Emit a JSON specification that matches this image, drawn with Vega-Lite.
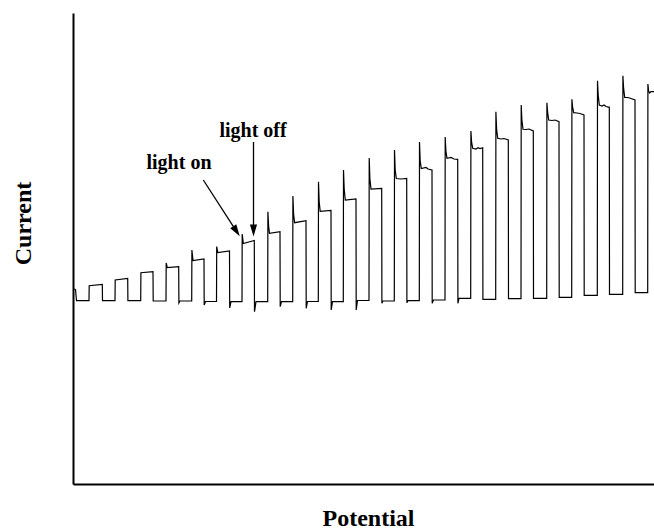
{
  "$schema": "https://vega.github.io/schema/vega-lite/v6.json",
  "width": 581,
  "height": 471,
  "autosize": "none",
  "padding": {"left": 73, "top": 13, "right": 0, "bottom": 45},
  "background": "white",
  "config": {
    "view": {"stroke": null},
    "font": "Liberation Serif",
    "axis": {
      "domainColor": "black",
      "domainWidth": 2,
      "ticks": false,
      "labels": false,
      "grid": false,
      "titleFont": "Liberation Serif",
      "titleFontWeight": "bold",
      "titleFontSize": 24,
      "titleColor": "black"
    }
  },
  "datasets": {
    "trace": [
      {"p": 0, "c": 195}, {"p": 2.5, "c": 194.5}, {"p": 3.5, "c": 183.3}, {"p": 16, "c": 183.3},
      {"p": 16.2, "c": 198.3}, {"p": 29.3, "c": 199.7}, {"p": 29.5, "c": 183.3}, {"p": 42, "c": 183.3},
      {"p": 42.2, "c": 204}, {"p": 54.7, "c": 205.5}, {"p": 54.9, "c": 183.3}, {"p": 67.7, "c": 183.3},
      {"p": 67.9, "c": 211.3}, {"p": 80, "c": 212.3}, {"p": 80.2, "c": 183}, {"p": 93, "c": 183},
      {"p": 93.2, "c": 221}, {"p": 94.2, "c": 216.5}, {"p": 105.7, "c": 217.3}, {"p": 105.9, "c": 181}, {"p": 107, "c": 183}, {"p": 118.7, "c": 183},
      {"p": 118.9, "c": 234}, {"p": 120, "c": 223.5}, {"p": 131, "c": 225}, {"p": 131.2, "c": 179}, {"p": 132.5, "c": 182.5}, {"p": 143.5, "c": 182.5},
      {"p": 143.7, "c": 237.5}, {"p": 144.8, "c": 231.5}, {"p": 156.5, "c": 233}, {"p": 156.7, "c": 176}, {"p": 158, "c": 182.3}, {"p": 169, "c": 182.3},
      {"p": 169.2, "c": 250}, {"p": 170.3, "c": 240.5}, {"p": 181.3, "c": 243.5}, {"p": 181.5, "c": 172.3}, {"p": 183, "c": 182.3}, {"p": 194.7, "c": 182.3},
      {"p": 194.9, "c": 272.3}, {"p": 195.6, "c": 258}, {"p": 196.5, "c": 250.7}, {"p": 207, "c": 252.3}, {"p": 207.2, "c": 177.3}, {"p": 208.5, "c": 182.3}, {"p": 219.7, "c": 182.3},
      {"p": 219.9, "c": 288}, {"p": 220.6, "c": 270}, {"p": 221.6, "c": 261.3}, {"p": 233, "c": 263.3}, {"p": 233.2, "c": 175.7}, {"p": 234.5, "c": 182.5}, {"p": 245.3, "c": 182.5},
      {"p": 245.5, "c": 302.3}, {"p": 246.2, "c": 282}, {"p": 247.2, "c": 272.7}, {"p": 258, "c": 273.5}, {"p": 258.2, "c": 174}, {"p": 259.5, "c": 182.3}, {"p": 270.3, "c": 182.3},
      {"p": 270.5, "c": 314}, {"p": 271.2, "c": 295}, {"p": 272.3, "c": 284}, {"p": 283, "c": 285}, {"p": 283.2, "c": 174}, {"p": 284.5, "c": 183.5}, {"p": 296, "c": 183.5},
      {"p": 296.2, "c": 326}, {"p": 296.9, "c": 305}, {"p": 298, "c": 295}, {"p": 308.7, "c": 295.7}, {"p": 308.9, "c": 180.7}, {"p": 310, "c": 183}, {"p": 321.3, "c": 183},
      {"p": 321.5, "c": 334}, {"p": 322.2, "c": 314}, {"p": 323.3, "c": 305.5}, {"p": 328, "c": 305}, {"p": 333.7, "c": 305.5}, {"p": 333.9, "c": 181.3}, {"p": 335, "c": 183.3}, {"p": 346.3, "c": 183.3},
      {"p": 346.5, "c": 342}, {"p": 347.2, "c": 323}, {"p": 348.3, "c": 315.5}, {"p": 353, "c": 316.5}, {"p": 355, "c": 315}, {"p": 359, "c": 314}, {"p": 359.2, "c": 180.7}, {"p": 360.5, "c": 184}, {"p": 372, "c": 184},
      {"p": 372.2, "c": 347}, {"p": 372.9, "c": 333}, {"p": 374, "c": 325.7}, {"p": 378, "c": 326.5}, {"p": 381, "c": 325}, {"p": 384.7, "c": 324.7}, {"p": 384.9, "c": 180.7}, {"p": 386, "c": 185.7}, {"p": 397.7, "c": 185.7},
      {"p": 397.9, "c": 353}, {"p": 398.6, "c": 342}, {"p": 399.7, "c": 335.7}, {"p": 403, "c": 335}, {"p": 405, "c": 336.3}, {"p": 407, "c": 335.5}, {"p": 409.7, "c": 336.3}, {"p": 409.9, "c": 184.7}, {"p": 422.7, "c": 184.7},
      {"p": 422.9, "c": 372.3}, {"p": 423.6, "c": 355}, {"p": 424.7, "c": 345.7}, {"p": 428, "c": 345}, {"p": 431, "c": 345.5}, {"p": 435.3, "c": 344}, {"p": 435.5, "c": 185.3}, {"p": 448, "c": 185.3},
      {"p": 448.2, "c": 379}, {"p": 448.9, "c": 364}, {"p": 450, "c": 354.7}, {"p": 453, "c": 354.5}, {"p": 456, "c": 355}, {"p": 460.3, "c": 353}, {"p": 460.5, "c": 185.7}, {"p": 473.7, "c": 185.7},
      {"p": 473.9, "c": 381.3}, {"p": 474.6, "c": 372}, {"p": 475.7, "c": 364}, {"p": 479, "c": 363.5}, {"p": 482, "c": 364}, {"p": 486, "c": 362.3}, {"p": 486.2, "c": 186.7}, {"p": 498.7, "c": 186.7},
      {"p": 498.9, "c": 384.7}, {"p": 499.6, "c": 377}, {"p": 500.7, "c": 371.3}, {"p": 504, "c": 371}, {"p": 507, "c": 370.5}, {"p": 511, "c": 369}, {"p": 511.2, "c": 188.7}, {"p": 524.3, "c": 188.7},
      {"p": 524.5, "c": 403.3}, {"p": 525.2, "c": 389}, {"p": 526.3, "c": 379}, {"p": 529, "c": 378}, {"p": 531, "c": 379}, {"p": 533, "c": 377.5}, {"p": 536.3, "c": 376.7}, {"p": 536.5, "c": 189.7}, {"p": 549.7, "c": 189.7},
      {"p": 549.9, "c": 408.3}, {"p": 550.6, "c": 396}, {"p": 551.7, "c": 386.5}, {"p": 555, "c": 386.5}, {"p": 558, "c": 385.5}, {"p": 562, "c": 384}, {"p": 562.2, "c": 191.3}, {"p": 574.7, "c": 191.3},
      {"p": 574.9, "c": 400}, {"p": 575.6, "c": 393}, {"p": 576.7, "c": 391}, {"p": 578, "c": 392.3}, {"p": 581, "c": 392.3}
    ],
    "labels": [
      {"p": 106, "c": 314.7, "label": "light on"},
      {"p": 180, "c": 347, "label": "light off"}
    ],
    "shafts": [
      {"p": 130.3, "c": 304, "p2": 163.5, "c2": 252.7},
      {"p": 180.5, "c": 342, "p2": 180.5, "c2": 255}
    ],
    "headOn": [{"p": 163.5, "c": 252.7}],
    "headOff": [{"p": 180.5, "c": 253.5}]
  },
  "layer": [
    {
      "data": {"name": "trace"},
      "mark": {"type": "line", "stroke": "black", "strokeWidth": 1.2, "interpolate": "linear"},
      "encoding": {
        "x": {"field": "p", "type": "quantitative", "scale": {"domain": [0, 581], "nice": false, "zero": false},
              "axis": {"title": "Potential", "titleX": 295, "titleY": 41, "titleAlign": "center", "titleBaseline": "alphabetic"}},
        "y": {"field": "c", "type": "quantitative", "scale": {"domain": [0, 471], "nice": false, "zero": false},
              "axis": {"title": "Current", "titleAngle": -90, "titleX": -50, "titleY": 210, "titleAlign": "center", "titleBaseline": "middle"}},
        "order": {"value": null}
      }
    },
    {
      "data": {"name": "labels"},
      "mark": {"type": "text", "font": "Liberation Serif", "fontWeight": "bold", "fontSize": 20, "align": "center", "baseline": "alphabetic", "color": "black"},
      "encoding": {
        "x": {"field": "p", "type": "quantitative"},
        "y": {"field": "c", "type": "quantitative"},
        "text": {"field": "label"}
      }
    },
    {
      "data": {"name": "shafts"},
      "mark": {"type": "rule", "color": "black", "strokeWidth": 1.3},
      "encoding": {
        "x": {"field": "p", "type": "quantitative"},
        "y": {"field": "c", "type": "quantitative"},
        "x2": {"field": "p2"},
        "y2": {"field": "c2"}
      }
    },
    {
      "data": {"name": "headOn"},
      "mark": {"type": "point", "shape": "M0,1L-0.6,-1L0.6,-1Z", "size": 144, "filled": true, "color": "black", "opacity": 1, "angle": -33},
      "encoding": {
        "x": {"field": "p", "type": "quantitative"},
        "y": {"field": "c", "type": "quantitative"}
      }
    },
    {
      "data": {"name": "headOff"},
      "mark": {"type": "point", "shape": "M0,1L-0.6,-1L0.6,-1Z", "size": 144, "filled": true, "color": "black", "opacity": 1},
      "encoding": {
        "x": {"field": "p", "type": "quantitative"},
        "y": {"field": "c", "type": "quantitative"}
      }
    }
  ]
}
